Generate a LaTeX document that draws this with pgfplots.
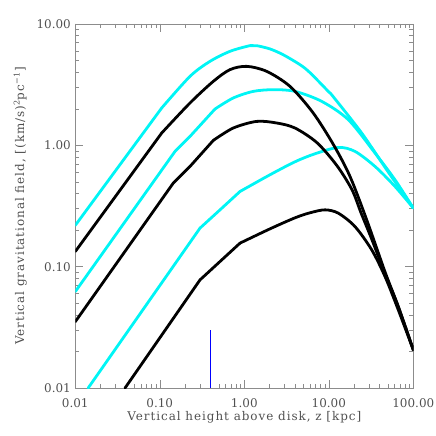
\documentclass[border=0pt]{standalone}
\usepackage{pgfplots}
\pgfplotsset{compat=1.18}
\usepackage{fontspec}
\setmainfont{DejaVu Serif}
\definecolor{cyanc}{RGB}{0,245,245}
\definecolor{axgray}{RGB}{140,140,140}
\definecolor{txtgray}{RGB}{80,80,80}
\begin{document}
\begin{tikzpicture}
\path[use as bounding box] (-75.3bp,-48bp) rectangle (360.7bp,388bp);
\begin{axis}[
  scale only axis, width=338bp, height=364bp,
  xmode=log, ymode=log,
  xmin=0.01, xmax=100, ymin=0.01, ymax=10,
  xtick={0.01,0.1,1,10,100}, xticklabels={0.01,0.10,1.00,10.00,100.00},
  ytick={0.01,0.1,1,10}, yticklabels={0.01,0.10,1.00,10.00},
  axis line style={axgray, line width=0.7pt},
  every tick/.style={axgray, line width=0.6pt},
  major tick length=8bp, minor tick length=4bp,
  tick align=inside,
  tick label style={font=\fontsize{12}{14}\selectfont, text=txtgray},
  xticklabel style={yshift=-7bp},
  yticklabel style={xshift=-1bp},
  label style={font=\fontsize{12}{14}\selectfont\addfontfeatures{LetterSpace=8}, text=txtgray},
  xlabel={Vertical height above disk, z [kpc]},
  ylabel={Vertical gravitational field, [(km/s)\textsuperscript{2}pc\textsuperscript{−1}]},
  xlabel shift=-3bp,
  ylabel shift=3bp,
  clip=true,
  every axis plot/.append style={line width=2.8pt, line cap=round, line join=round},
  lsharp/.style={sharp plot},
  lsmooth/.style={smooth, tension=0.5},
]
% ---- cyan curves ----
\addplot[cyanc, lsharp] coordinates {(0.01,0.219) (0.1053,2.031)};
\addplot[cyanc, lsmooth] coordinates {
(0.1053,2.031) (0.2277,3.703)
(0.3927,4.922) (0.6773,5.953) (1.168,6.634) (1.40,6.63) (2.014,6.23) (2.871,5.59)
(4.563,4.62) (5.99,3.97) (9.86,2.784) (11.2,2.533) (24.51,1.263) (48.4,0.629) (100,0.304)};
\addplot[cyanc, lsharp] coordinates {(0.01,0.0623) (0.1513,0.891) (0.2277,1.184) (0.4502,1.993)};
\addplot[cyanc, lsmooth] coordinates {
(0.4502,1.993) (0.7409,2.457)
(1.278,2.784) (2.204,2.875) (3.981,2.784) (8.24,2.303) (17.02,1.626) (35.22,0.864)
(60.74,0.520) (100,0.304)};
\addplot[cyanc, lsharp] coordinates {(0.0142,0.01) (0.299,0.2078) (0.5159,0.294) (0.8893,0.4165)};
\addplot[cyanc, lsmooth] coordinates {
(0.8893,0.4165) (2.014,0.572) (3.981,0.732) (6.866,0.852) (12.96,0.961) (20.42,0.891)
(35.22,0.670) (60.74,0.458) (100,0.304)};
% ---- black curves ----
\addplot[black, lsharp] coordinates {(0.01,0.1333) (0.1053,1.263)};
\addplot[black, lsmooth] coordinates {
(0.1053,1.263) (0.2277,2.234) (0.4297,3.367)
(0.6773,4.206) (1.067,4.477) (1.841,4.07) (3.474,3.062)
(6.50,1.858) (11.36,1.012) (17.82,0.554) (28.08,0.2433) (46.26,0.0906)
(66.45,0.0469) (100,0.0206)};
\addplot[black, lsharp] coordinates {(0.01,0.0352) (0.1445,0.489) (0.2277,0.670) (0.4297,1.098)};
\addplot[black, lsmooth] coordinates {
(0.4297,1.098) (0.7409,1.389)
(1.402,1.575) (2.418,1.528) (3.981,1.389) (7.25,1.051) (12.50,0.679) (18.83,0.430)
(24.05,0.278) (32.44,0.1664) (46.26,0.0873) (66.45,0.0467) (100,0.0206)};
\addplot[black, lsharp] coordinates {(0.0388,0.01) (0.299,0.0778) (0.8893,0.1563)};
\addplot[black, lsmooth] coordinates {
(0.8893,0.1563) (2.014,0.205) (3.981,0.2527)
(5.99,0.278) (9.02,0.294) (12.96,0.276) (20.42,0.214) (32.19,0.1376) (46.26,0.0829)
(66.45,0.0440) (100,0.0206)};
% ---- blue marker line ----
\addplot[blue, line width=1.1pt, sharp plot, line cap=butt] coordinates {(0.4,0.01) (0.4,0.03)};
\end{axis}
\end{tikzpicture}
\end{document}
